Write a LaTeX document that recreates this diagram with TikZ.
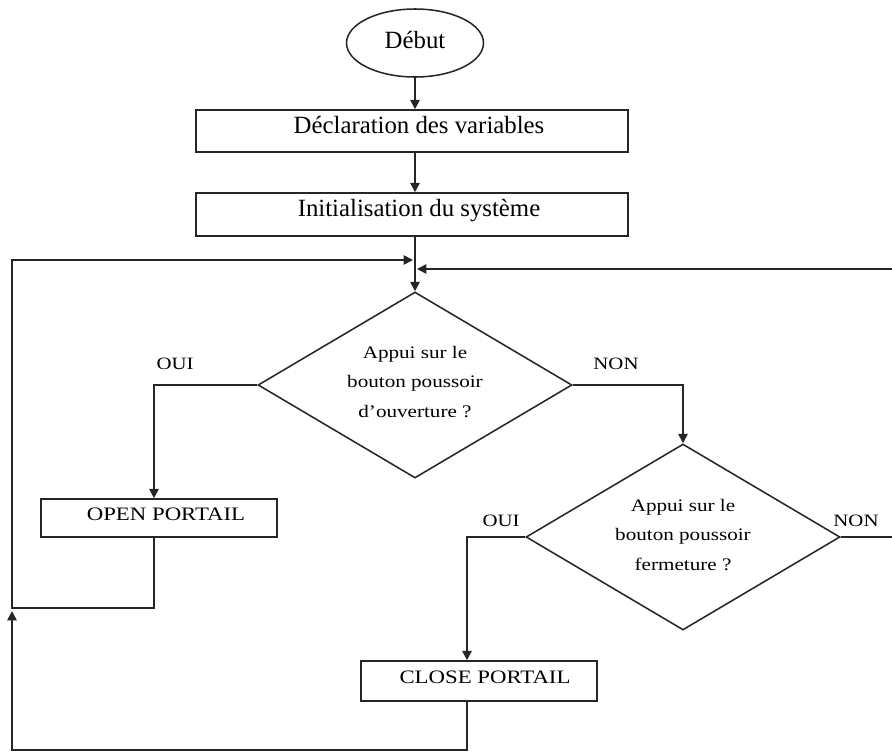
\documentclass[tikz,border=0pt]{standalone}
\usepackage{fontspec}
\setmainfont{Liberation Serif}
\newfontfamily\widefont[FakeStretch=1.2]{Liberation Serif}
\usetikzlibrary{shapes.geometric,arrows.meta}
\begin{document}
\begin{tikzpicture}[x=0.75pt,y=-0.75pt,
  line/.style={draw=black!85, line width=1.3pt},
  arr/.style={line, -{Triangle[width=7pt,length=7pt]}},
  shp/.style={draw=black!85, line width=1.15pt, inner sep=0pt},
  bigtxt/.style={font=\fontsize{18.6}{22}\selectfont},
  boxtxt/.style={font=\widefont\fontsize{14.25}{18}\selectfont},
  dtxt/.style={font=\widefont\fontsize{13.2}{22}\selectfont, align=center},
  lbl/.style={font=\widefont\fontsize{13}{16}\selectfont, inner sep=0pt}]
\fill[white] (0,0) rectangle (892,754);
\useasboundingbox (0,0) rectangle (892,754);

% nodes
\node[shp, ellipse, minimum width=102.75pt, minimum height=51pt,
  label={[bigtxt, yshift=2.25pt]center:Début}] (debut) at (415,43) {};
\node[shp, rectangle, minimum width=324pt, minimum height=31.5pt,
  label={[bigtxt, xshift=5.25pt, yshift=4.5pt]center:Déclaration des variables}] (decl) at (412,131) {};
\node[shp, rectangle, minimum width=324pt, minimum height=32.25pt,
  label={[bigtxt, xshift=5.25pt, yshift=2.6pt]center:Initialisation du système}] (init) at (412,214.5) {};
\node[shp, diamond, minimum width=235.5pt, minimum height=139.5pt,
  label={[dtxt, yshift=2.25pt]center:Appui sur le\\bouton poussoir\\d’ouverture ?}] (d1) at (415,385) {};
\node[shp, diamond, minimum width=235.5pt, minimum height=139.5pt,
  label={[dtxt, yshift=1.5pt]center:Appui sur le\\bouton poussoir\\fermeture ?}] (d2) at (683,537) {};
\node[shp, rectangle, minimum width=177pt, minimum height=28.5pt,
  label={[boxtxt, xshift=5.25pt, yshift=2.6pt]center:OPEN PORTAIL}] (open) at (159,518) {};
\node[shp, rectangle, minimum width=177pt, minimum height=30pt,
  label={[boxtxt, xshift=4.5pt, yshift=2.6pt]center:CLOSE PORTAIL}] (close) at (479,681) {};

% labels
\node[lbl] (oui1) at (175,364) {OUI};
\node[lbl] (non1) at (616,364) {NON};
\node[lbl] (oui2) at (501,521) {OUI};
\node[lbl] (non2) at (856,521) {NON};

% helper coordinates
\coordinate (ljoin) at (413,260);
\coordinate (rjoin) at (417,269);
\coordinate (ltop) at (12,260);
\coordinate (lmid) at (12,608);
\coordinate (lbot) at (12,750);
\coordinate (ltip) at (12,611);
\coordinate (rtop) at (892,269);
\coordinate (redge) at (892,537);

% main flow
\draw[arr] (debut.south) -- (decl.north -| debut.south);
\draw[arr] (decl.south -| d1.north) -- (init.north -| d1.north);
\draw[arr] (init.south -| d1.north) -- (d1.north);

% branches
\draw[arr] (d1.west) -| ([xshift=-3.75pt]open.north);
\draw[arr] (d1.east) -| (d2.north);
\draw[arr] (d2.west) -| ([xshift=-9pt]close.north);
\draw[line] (d2.east) -- (redge);

% loops
\draw[arr] ([xshift=-3.75pt]open.south) |- (lmid) -- (ltop) -- (ljoin);
\draw[arr] ([xshift=-9pt]close.south) |- (lbot) -- (ltip);
\draw[arr] (rtop) -- (rjoin);
\end{tikzpicture}
\end{document}
